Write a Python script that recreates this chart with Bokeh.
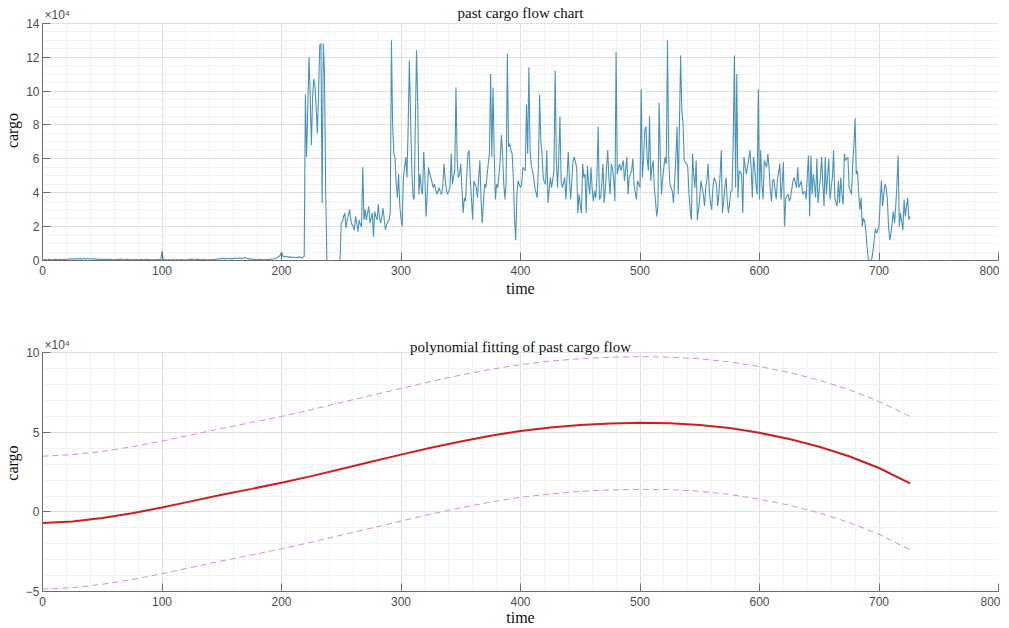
from bokeh.plotting import figure
from bokeh.layouts import column
from bokeh.models import FixedTicker, Range1d, Label, Grid
from bokeh.embed import file_html
from bokeh.resources import INLINE

# ---------------- data (cargo in units of 1e4) ----------------
cargo = [
    # 0-99
    0.05, 0.04, 0.06, 0.05, 0.03, 0.06, 0.07, 0.05, 0.04, 0.06,
    0.05, 0.08, 0.06, 0.04, 0.05, 0.07, 0.06, 0.05, 0.08, 0.06,
    0.07, 0.09, 0.06, 0.08, 0.10, 0.07, 0.09, 0.11, 0.08, 0.10,
    0.12, 0.09, 0.11, 0.08, 0.10, 0.13, 0.09, 0.11, 0.10, 0.08,
    0.12, 0.09, 0.10, 0.07, 0.09, 0.08, 0.06, 0.09, 0.07, 0.05,
    0.08, 0.06, 0.07, 0.05, 0.06, 0.08, 0.05, 0.07, 0.06, 0.04,
    0.06, 0.05, 0.08, 0.06, 0.05, 0.09, 0.07, 0.05, 0.06, 0.04,
    0.05, 0.07, 0.06, 0.04, 0.05, 0.06, 0.04, 0.05, 0.07, 0.05,
    0.04, 0.06, 0.05, 0.07, 0.05, 0.04, 0.06, 0.08, 0.05, 0.06,
    0.04, 0.05, 0.03, 0.05, 0.04, 0.06, 0.05, 0.04, 0.06, 0.05,
    # 100-199
    0.55, 0.06, 0.04, 0.05, 0.03, 0.04, 0.05, 0.03, 0.04, 0.06,
    0.04, 0.03, 0.05, 0.04, 0.03, 0.05, 0.04, 0.06, 0.04, 0.03,
    0.04, 0.05, 0.03, 0.06, 0.08, 0.06, 0.09, 0.07, 0.05, 0.06,
    0.08, 0.06, 0.05, 0.04, 0.06, 0.05, 0.04, 0.05, 0.03, 0.04,
    0.05, 0.04, 0.06, 0.05, 0.07, 0.06, 0.08, 0.10, 0.09, 0.12,
    0.10, 0.13, 0.11, 0.09, 0.12, 0.10, 0.14, 0.11, 0.09, 0.12,
    0.10, 0.13, 0.15, 0.12, 0.10, 0.16, 0.13, 0.11, 0.14, 0.18,
    0.15, 0.12, 0.10, 0.08, 0.09, 0.07, 0.08, 0.06, 0.07, 0.05,
    0.06, 0.05, 0.07, 0.05, 0.06, 0.04, 0.05, 0.07, 0.06, 0.05,
    0.06, 0.08, 0.07, 0.09, 0.10, 0.12, 0.15, 0.20, 0.25, 0.30,
    # 200-299
    0.50, 0.28, 0.22, 0.25, 0.20, 0.23, 0.18, 0.22, 0.20, 0.17,
    0.21, 0.19, 0.16, 0.20, 0.18, 0.22, 0.17, 0.15, 0.20, 0.25,
    9.8, 6.1, 9.0, 12.0, 9.8, 6.8, 9.6, 10.7, 10.3, 9.0,
    7.5, 9.8, 12.7, 12.8, 3.4, 12.8, 11.0, 4.0, 0.0, 0.0,
    0.0, 0.0, 0.0, 0.0, 0.0, 0.0, 0.0, 0.0, 0.0, 0.0,
    2.2, 2.3, 2.6, 2.8, 1.9, 2.4, 2.7, 3.0, 2.4, 2.1,
    2.0, 1.8, 2.6, 2.2, 1.7, 2.4, 2.1, 2.0, 5.5, 2.4,
    3.0, 2.4, 2.8, 3.2, 2.2, 2.5, 2.8, 1.4, 2.9, 2.6,
    2.4, 3.3, 2.5, 2.2, 2.6, 3.1, 2.4, 1.8, 2.1, 2.3,
    2.4, 2.8, 13.0, 8.0, 6.3, 6.1, 4.5, 3.7, 5.1, 3.2,
    # 300-399
    2.5, 2.0, 4.9, 5.5, 6.1, 4.9, 7.9, 11.8, 8.5, 5.5,
    3.8, 3.6, 8.0, 12.4, 9.4, 3.9, 5.1, 4.2, 3.9, 6.4,
    5.0, 2.6, 4.0, 5.5, 5.1, 4.9, 4.6, 4.3, 4.5, 4.2,
    3.9, 4.1, 4.3, 4.0, 3.9, 4.4, 5.7, 4.8, 4.1, 3.9,
    4.1, 4.3, 6.3, 4.5, 4.9, 5.3, 10.2, 5.9, 4.9, 5.1,
    5.7, 4.2, 2.8, 3.7, 3.5, 5.0, 6.3, 6.5, 4.8, 3.6,
    2.4, 4.7, 4.5, 4.3, 3.7, 4.8, 5.9, 3.6, 2.2, 3.5,
    4.5, 4.3, 5.0, 5.7, 6.3, 11.0, 6.1, 10.2, 6.3, 3.6,
    4.5, 4.3, 5.1, 5.9, 7.4, 6.3, 4.5, 3.6, 4.7, 12.2,
    6.7, 6.9, 6.5, 6.3, 4.9, 2.5, 1.2, 3.9, 4.7, 4.5,
    # 400-499
    4.3, 4.5, 5.5, 5.4, 5.3, 9.2, 6.3, 11.4, 6.5, 5.6,
    5.3, 4.9, 4.3, 4.0, 3.7, 5.5, 9.8, 7.0, 6.3, 4.9,
    4.6, 4.5, 6.5, 3.4, 4.2, 4.9, 4.3, 4.8, 5.3, 11.2,
    5.9, 4.3, 6.0, 8.5, 4.7, 4.3, 4.6, 4.9, 3.6, 5.0,
    6.4, 4.7, 3.6, 4.8, 5.9, 6.1, 5.8, 5.5, 2.8, 3.9,
    3.3, 2.8, 5.7, 4.9, 5.1, 2.8, 5.6, 4.5, 3.9, 5.5,
    4.2, 3.5, 4.1, 3.7, 5.0, 7.9, 3.6, 3.7, 4.5, 5.7,
    3.4, 4.2, 5.5, 6.5, 4.8, 3.9, 5.7, 5.4, 4.8, 3.5,
    12.3, 5.1, 5.5, 5.7, 5.3, 5.6, 5.9, 4.7, 5.4, 6.1,
    3.9, 4.9, 5.1, 5.3, 6.0, 4.5, 4.0, 3.6, 4.7, 4.5,
    # 500-599
    4.3, 10.1, 4.9, 6.0, 7.7, 7.9, 6.0, 5.3, 8.5, 4.7,
    5.5, 5.9, 4.3, 3.5, 2.6, 3.2, 9.3, 6.0, 3.9, 4.9,
    5.5, 6.1, 5.7, 13.0, 6.1, 4.5, 4.3, 4.1, 3.4, 4.7,
    6.0, 7.9, 3.9, 8.0, 12.1, 8.9, 8.1, 5.9, 5.8, 5.7,
    5.5, 3.9, 3.0, 2.4, 6.3, 5.0, 4.3, 5.9, 2.4, 3.0,
    3.7, 4.7, 4.3, 3.9, 3.2, 4.3, 4.8, 5.7, 4.1, 3.4,
    3.0, 4.3, 4.9, 4.7, 4.5, 3.2, 3.9, 5.0, 6.5, 2.8,
    3.5, 4.3, 4.9, 3.5, 2.8, 3.4, 4.1, 4.1, 7.0, 12.1,
    4.3, 11.0, 3.7, 5.3, 5.2, 5.1, 2.8, 6.1, 5.6, 5.1,
    5.5, 6.0, 6.5, 5.5, 3.7, 6.1, 5.5, 4.5, 3.9, 10.1,
    # 600-699
    3.6, 6.5, 4.5, 3.6, 5.9, 5.7, 5.5, 6.3, 5.5, 4.2,
    3.5, 4.7, 4.8, 4.2, 3.6, 4.8, 5.2, 5.7, 3.6, 4.5,
    5.8, 2.0, 3.7, 3.8, 3.9, 3.5, 3.7, 4.2, 4.7, 4.9,
    4.6, 4.3, 5.5, 4.3, 4.5, 4.7, 3.9, 4.0, 4.1, 3.6,
    5.0, 6.2, 2.6, 6.2, 3.9, 5.1, 4.5, 3.7, 6.0, 3.4,
    4.2, 4.9, 6.1, 4.5, 3.2, 6.1, 3.9, 5.0, 6.0, 3.6,
    4.3, 4.9, 6.5, 3.7, 3.4, 3.2, 4.7, 3.4, 4.9, 3.9,
    3.3, 6.3, 5.9, 6.0, 6.1, 4.3, 4.1, 3.9, 5.7, 6.8,
    8.4, 5.1, 5.3, 4.0, 3.0, 3.7, 2.0, 2.5, 2.3, 1.8,
    0.8, 0.1, 0.0, 0.0, 0.1, 0.6, 1.2, 1.9, 1.6, 1.8,
    # 700-726
    2.0, 3.5, 4.7, 3.2, 3.9, 4.5, 4.3, 3.6, 2.0, 1.2,
    1.6, 2.2, 2.9, 2.2, 3.2, 4.5, 6.2, 2.0, 2.8, 2.3,
    1.8, 3.6, 2.6, 3.2, 3.7, 2.4, 2.6,
]
time = list(range(len(cargo)))

fit_time = [0, 25, 50, 75, 100, 125, 150, 175, 200, 225, 250, 275, 300, 325, 350,
            375, 400, 425, 450, 475, 500, 525, 550, 575, 600, 625, 650, 675, 700, 726]
fit_cargo = [-0.70, -0.60, -0.38, -0.08, 0.28, 0.68, 1.08, 1.45, 1.83, 2.25, 2.70, 3.15,
             3.60, 4.03, 4.43, 4.79, 5.09, 5.31, 5.46, 5.56, 5.60, 5.58, 5.47, 5.27,
             4.97, 4.58, 4.10, 3.50, 2.76, 1.80]
fit_upper = [3.50, 3.60, 3.80, 4.10, 4.45, 4.85, 5.25, 5.62, 6.00, 6.43, 6.88, 7.32,
             7.76, 8.20, 8.60, 8.96, 9.26, 9.48, 9.63, 9.72, 9.76, 9.73, 9.62, 9.43,
             9.14, 8.76, 8.28, 7.68, 6.95, 6.00]
fit_lower = [-4.85, -4.76, -4.55, -4.25, -3.88, -3.48, -3.08, -2.70, -2.32, -1.90,
             -1.46, -1.02, -0.57, -0.14, 0.26, 0.62, 0.92, 1.13, 1.29, 1.38, 1.42,
             1.40, 1.30, 1.10, 0.80, 0.42, -0.06, -0.66, -1.40, -2.38]

x_ticks = [0, 100, 200, 300, 400, 500, 600, 700, 800]
y1_ticks = [0, 2, 4, 6, 8, 10, 12, 14]
y2_ticks = [-5, 0, 5, 10]

SERIF = "Liberation Serif"
SANS = "Liberation Sans"
TICK_COLOR = "#4d4d4d"
HAS_CROSS = "cross_bounds" in Grid.properties()


def style(p, title_text, yt, ymin, ymax, ytop, ystep_minor, time_standoff):
    xt = FixedTicker(ticks=x_ticks, minor_ticks=[i * 20 for i in range(41)])
    n = int(round((ymax - ymin) / ystep_minor))
    yt_ = FixedTicker(ticks=yt, minor_ticks=[ymin + i * ystep_minor for i in range(n + 1)])
    p.xaxis.ticker = xt
    p.xgrid.ticker = xt
    p.yaxis.ticker = yt_
    p.ygrid.ticker = yt_
    p.yaxis.bounds = (ymin, ymax)
    p.xgrid.bounds = (-1, 801)
    p.ygrid.bounds = (ymin - 0.01, ymax + 0.01)
    if HAS_CROSS:
        p.xgrid.cross_bounds = (ymin, ymax)
    for g in (p.xgrid, p.ygrid):
        g.grid_line_color = "#e0e0e0"
        g.minor_grid_line_color = "#f2f2f2"
        g.grid_line_width = 1
    for ax in (p.xaxis, p.yaxis):
        ax.major_tick_in = 8
        ax.major_tick_out = 0
        ax.minor_tick_in = 0
        ax.minor_tick_out = 0
        ax.axis_line_color = "#6e6e6e"
        ax.major_tick_line_color = "#6e6e6e"
        ax.major_label_text_font = SANS
        ax.major_label_text_font_size = "12px"
        ax.major_label_text_color = TICK_COLOR
        ax.axis_label_text_font = SERIF
        ax.axis_label_text_font_size = "16px"
        ax.axis_label_text_font_style = "normal"
        ax.axis_label_text_color = "#111111"
    p.xaxis.axis_label = "time"
    p.yaxis.axis_label = "cargo"
    p.xaxis.major_label_standoff = 5
    p.xaxis.axis_label_standoff = time_standoff
    p.yaxis.major_label_standoff = 3
    p.yaxis.axis_label_standoff = 2
    p.outline_line_color = None
    if not HAS_CROSS:
        # white band above the axes box, so that vertical grid lines stop at the top tick
        p.quad(left=[x_ticks[0]], right=[x_ticks[-1]], bottom=[ymax], top=[ytop],
               fill_color="white", line_color=None)
    p.add_layout(Label(x=(x_ticks[0] + x_ticks[-1]) / 2, y=ytop, text=title_text,
                       y_offset=-4, text_align="center", text_baseline="top",
                       text_font=SERIF, text_font_size="15px", text_color="#111111"))
    p.add_layout(Label(x=x_ticks[0], y=ymax, text="×10⁴", x_offset=2, y_offset=1,
                       text_font=SANS, text_font_size="12px", text_color=TICK_COLOR,
                       text_baseline="bottom"))


# top panel: axes box spans 0..14, frame extends up to hold the title line
Y1_TOP = 15.34
p1 = figure(frame_width=956, frame_height=260, x_range=Range1d(0, 800), y_range=Range1d(0, Y1_TOP),
            output_backend="svg", toolbar_location=None,
            min_border_left=35, min_border_right=2, min_border_top=0, min_border_bottom=0)
style(p1, "past cargo flow chart", y1_ticks, 0, 14, Y1_TOP, 0.5, 2)
p1.line(time, cargo, line_color="#4a94bb", line_width=1.1)

Y2_TOP = 11.15
p2 = figure(frame_width=956, frame_height=257, x_range=Range1d(0, 800), y_range=Range1d(-5, Y2_TOP),
            output_backend="svg", toolbar_location=None,
            min_border_left=35, min_border_right=2, min_border_top=0, min_border_bottom=0)
style(p2, "polynomial fitting of past cargo flow", y2_ticks, -5, 10, Y2_TOP, 1, 0)
p2.line(fit_time, fit_upper, line_color="#d88cd8", line_width=1, line_dash="6 4")
p2.line(fit_time, fit_lower, line_color="#d88cd8", line_width=1, line_dash="6 4")
p2.line(fit_time, fit_cargo, line_color="#cc1f1f", line_width=2)

layout = column(p1, p2, spacing=35)
open("out.html", "w").write(file_html(layout, INLINE))
